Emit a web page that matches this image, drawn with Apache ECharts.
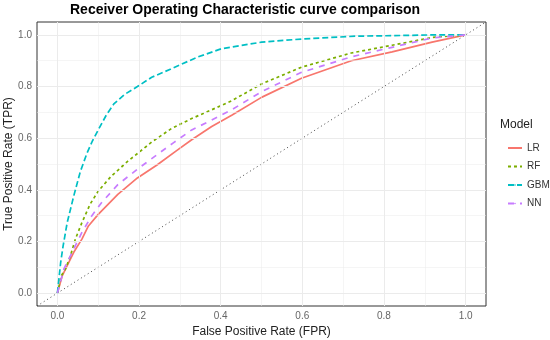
<!DOCTYPE html>
<html>
<head>
<meta charset="utf-8">
<script src="https://cdn.jsdelivr.net/npm/echarts@6/dist/echarts.min.js"></script>
<style>html,body{margin:0;padding:0;background:#fff}#c{width:550px;height:340px}</style>
</head>
<body>
<div id="c"></div>
<script>
var majorTicks = [0, 0.2, 0.4, 0.6, 0.8, 1.0];
var minorTicks = [0.1, 0.3, 0.5, 0.7, 0.9];
var modelNames = ['LR', 'RF', 'GBM', 'NN'];

var lrFpr = [0, 0.012, 0.024, 0.04, 0.06, 0.076, 0.1, 0.148, 0.196, 0.244, 0.292, 0.329, 0.378, 0.427, 0.5, 0.598, 0.72, 0.82, 0.918, 1.0];
var lrTpr = [0, 0.068, 0.106, 0.158, 0.209, 0.26, 0.305, 0.382, 0.446, 0.496, 0.552, 0.594, 0.645, 0.689, 0.758, 0.832, 0.9, 0.934, 0.972, 1.0];

var rfFpr = [0, 0.01, 0.02, 0.032, 0.044, 0.06, 0.08, 0.1, 0.132, 0.172, 0.231, 0.28, 0.329, 0.378, 0.427, 0.5, 0.598, 0.72, 0.82, 0.918, 1.0];
var rfTpr = [0, 0.068, 0.094, 0.145, 0.209, 0.273, 0.344, 0.395, 0.453, 0.51, 0.585, 0.638, 0.676, 0.71, 0.745, 0.81, 0.875, 0.93, 0.96, 0.99, 1.0];

var gbmFpr = [0, 0.008, 0.014, 0.024, 0.04, 0.056, 0.072, 0.086, 0.1, 0.12, 0.139, 0.165, 0.196, 0.231, 0.278, 0.343, 0.401, 0.5, 0.598, 0.73, 0.85, 0.92, 1.0];
var gbmTpr = [0, 0.119, 0.183, 0.273, 0.376, 0.47, 0.54, 0.59, 0.632, 0.69, 0.734, 0.77, 0.8, 0.836, 0.868, 0.914, 0.946, 0.972, 0.984, 0.995, 0.998, 1.0, 1.0];

var nnFpr = [0, 0.016, 0.028, 0.04, 0.06, 0.084, 0.108, 0.148, 0.196, 0.244, 0.284, 0.329, 0.378, 0.427, 0.5, 0.598, 0.72, 0.82, 0.918, 1.0];
var nnTpr = [0, 0.094, 0.132, 0.171, 0.235, 0.299, 0.35, 0.42, 0.48, 0.536, 0.582, 0.632, 0.67, 0.71, 0.78, 0.855, 0.915, 0.952, 0.988, 1.0];

var diagX = [-0.05, 1.05];
var diagY = [-0.05, 1.05];

function pairs(xs, ys) { return xs.map(function (x, i) { return [x, ys[i]]; }); }

var colors = ['#F8766D', '#7CAE00', '#00BFC4', '#C77CFF'];
var dashes = ['solid', [3, 3], [6, 3], [6, 6]];
var curves = [pairs(lrFpr, lrTpr), pairs(rfFpr, rfTpr), pairs(gbmFpr, gbmTpr), pairs(nnFpr, nnTpr)];

var gridLines = [];
majorTicks.forEach(function (v) { gridLines.push({ xAxis: v, lineStyle: { width: 1 } }); gridLines.push({ yAxis: v, lineStyle: { width: 1 } }); });
minorTicks.forEach(function (v) { gridLines.push({ xAxis: v, lineStyle: { width: 0.5 } }); gridLines.push({ yAxis: v, lineStyle: { width: 0.5 } }); });

var series = [{
  type: 'line', data: [], silent: true, z: 1,
  markLine: { silent: true, symbol: 'none', animation: false, label: { show: false },
    lineStyle: { color: '#ebebeb', type: 'solid' }, data: gridLines }
}, {
  type: 'line', data: pairs(diagX, diagY), symbol: 'none', silent: true, z: 2,
  lineStyle: { color: '#444', width: 1, type: [1, 3] }
}];
modelNames.forEach(function (n, i) {
  series.push({ name: n, type: 'line', data: curves[i], symbol: 'none', z: 3 + i,
    lineStyle: { color: colors[i], width: 1.7, type: dashes[i] }, itemStyle: { color: colors[i] } });
});

var fmt = function (v) { return Number(v).toFixed(1); };
var chart = echarts.init(document.getElementById('c'));
chart.setOption({
  animation: false,
  backgroundColor: '#fff',
  title: [{
    text: 'Receiver Operating Characteristic curve comparison', left: 70, top: 3, padding: 0,
    textStyle: { fontFamily: 'Liberation Sans, Arial, sans-serif', fontSize: 14, fontWeight: 'bold', color: '#000' }
  }, {
    text: 'Model', left: 500, top: 119, padding: 0,
    textStyle: { fontFamily: 'Liberation Sans, Arial, sans-serif', fontSize: 12, fontWeight: 'normal', color: '#222' }
  }],
  legend: {
    data: modelNames, orient: 'vertical', left: 502, top: 136, itemWidth: 14, itemHeight: 2, itemGap: 4.5,
    textStyle: { fontFamily: 'Liberation Sans, Arial, sans-serif', fontSize: 10, color: '#333', lineHeight: 14 }
  },
  grid: { left: 37, top: 22, right: 64, bottom: 34, show: true, borderColor: '#333', borderWidth: 1, backgroundColor: '#fff', outerBoundsMode: 'none', containLabel: false },
  xAxis: {
    type: 'value', min: -0.05, max: 1.05,
    name: 'False Positive Rate (FPR)', nameLocation: 'middle', nameGap: 20, nameMoveOverlap: false,
    nameTextStyle: { fontFamily: 'Liberation Sans, Arial, sans-serif', fontSize: 12, color: '#222' },
    axisLine: { show: false },
    axisTick: { show: true, customValues: majorTicks, length: 4, lineStyle: { color: '#333' } },
    axisLabel: { customValues: majorTicks, formatter: fmt, fontFamily: 'Liberation Sans, Arial, sans-serif', fontSize: 10, color: '#666', margin: 5 },
    splitLine: { show: false }
  },
  yAxis: {
    type: 'value', min: -0.05, max: 1.05,
    name: 'True Positive Rate (TPR)', nameLocation: 'middle', nameGap: 22, nameRotate: 90, nameMoveOverlap: false,
    nameTextStyle: { fontFamily: 'Liberation Sans, Arial, sans-serif', fontSize: 12, color: '#222' },
    axisLine: { show: false },
    axisTick: { show: true, customValues: majorTicks, length: 4, lineStyle: { color: '#333' } },
    axisLabel: { customValues: majorTicks, formatter: fmt, fontFamily: 'Liberation Sans, Arial, sans-serif', fontSize: 10, color: '#666', margin: 5 },
    splitLine: { show: false }
  },
  series: series
});
</script>
</body>
</html>
